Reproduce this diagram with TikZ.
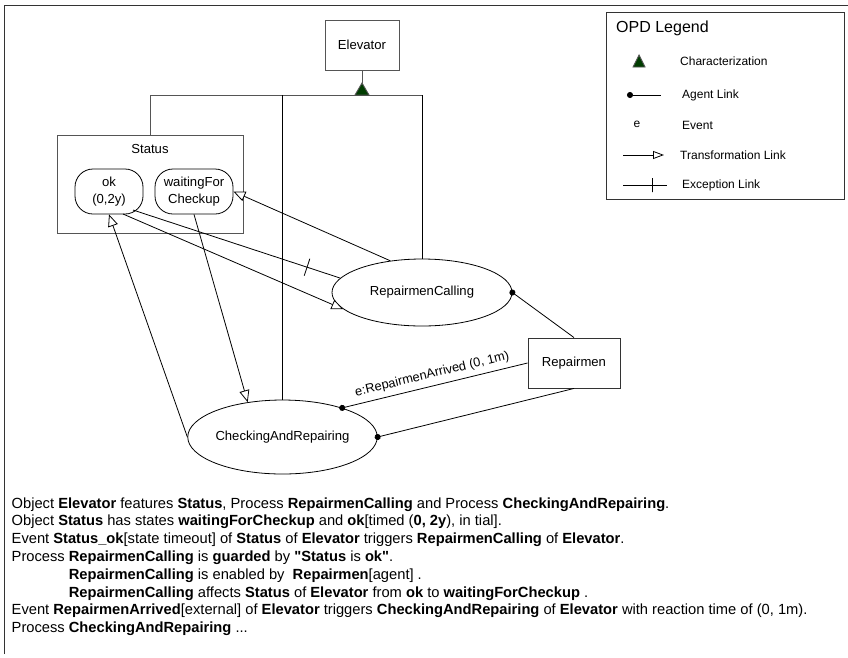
\documentclass[tikz,border=0pt]{standalone}
\usepackage{fontspec}
\setmainfont{Liberation Sans}
% same family without TeX input mapping, for straight double quotes
\newfontfamily\rawsans{Liberation Sans}
\usetikzlibrary{arrows.meta,shapes.geometric,calc}

\definecolor{chargreen}{RGB}{0,60,0}
\definecolor{edgegray}{RGB}{85,85,85}

\tikzset{
  every node/.style={inner sep=0pt, font=\fontsize{13.1}{16.5}\selectfont},
  link/.style={line width=0.8pt, black},
  objbox/.style={draw=edgegray, line width=0.9pt, rectangle},
  procell/.style={draw=black, line width=0.8pt, ellipse},
  statebox/.style={draw=black, line width=0.8pt, rectangle, rounded corners=18pt, align=center},
  translink/.style={link, -{Triangle[open, length=12pt, width=10pt, fill=white]}},
  agentlink/.style={link, -{Circle[length=6pt]}, shorten >=-3pt},
  agentlinkrev/.style={link, {Circle[length=6pt]}-, shorten <=-3pt},
  tickmark/.style={draw=black, line width=0.8pt, rectangle, minimum width=0pt, minimum height=18pt, inner sep=0pt},
  legendtext/.style={anchor=west, font=\fontsize{12}{14}\selectfont},
  opl/.style={anchor=base west, font=\fontsize{14.7}{17}\selectfont},
}
\newcommand{\oplindent}{\hphantom{Process }}
\newcommand{\sq}{{\rawsans\bfseries "}}

\begin{document}
\begin{tikzpicture}[x=1pt, y=-1pt]
\useasboundingbox (0,0) rectangle (848,657);

% page frame
\draw[line width=0.9pt, black!80] (4,654) -- (4,5) -- (848,5);

% objects
\node[objbox, minimum width=74pt, minimum height=50pt] (elev) at (362,45) {Elevator};
\node[objbox, minimum width=186pt, minimum height=98pt] (status) at (150,184) {};
\node (statusname) at (150,149) {Status};
\node[statebox, minimum width=68pt, minimum height=45pt] (ok) at (109,191.5) {ok\\(0,2y)};
\node[statebox, minimum width=78pt, minimum height=45pt] (wfc) at (194,191.5) {waitingFor\\Checkup};
\node[objbox, minimum width=92pt, minimum height=50pt, draw=black!80] (rep) at (574,363) {Repairmen};

% processes
\node[procell, minimum width=180pt, minimum height=67pt] (rc) at (422,292.5) {RepairmenCalling};
\node[procell, minimum width=181pt, minimum height=74pt] (cr) at (282.5,437) {CheckingAndRepairing};

% characterization of Elevator
\coordinate (apex) at (362,83);
\coordinate (bar) at (362,95);
\draw[line width=0.9pt, edgegray] (elev.south) -- (apex);
\draw[line width=0.9pt, edgegray] (status.north) |- (rc.north |- bar);
\draw[link] (rc.north |- bar) -- (rc.north);
\draw[link] (cr.north |- bar) -- (cr.north);
\filldraw[fill=chargreen, draw=edgegray, line width=0.9pt]
  ([xshift=-7pt]bar) -- (apex) -- ([xshift=7pt]bar) -- cycle;

% transformation and exception links
\draw[translink] ($(ok.center)+(14,22.5)$) -- (rc.192);
\draw[link] ($(ok.center)+(24,18.5)$) -- (rc.170)
  node[pos=0.84, sloped, tickmark] (exctick) {};
\draw[translink] (rc.135.5) -- (wfc.east);
\draw[translink] (wfc.south) -- (cr.135.4);
\draw[translink] (cr.west) -- (ok.south);

% agent and event links
\draw[agentlink] (rep.north) -- (rc.east);
\draw[agentlink] (rep.south) -- (cr.east);
\draw[agentlinkrev] (cr.26) -- (rep.west)
  node[midway, sloped, above=5pt, font=\fontsize{12.8}{14}\selectfont] (evlabel) {e:RepairmenArrived (0, 1m)};

% legend
\node[draw=black!80, line width=0.9pt, minimum width=238pt, minimum height=187pt] (legend) at (725,105.5) {};
\node[anchor=west, font=\fontsize{16}{18}\selectfont] (legtitle) at (616,28) {OPD Legend};
\coordinate (lgapex) at (639,55);
\filldraw[fill=chargreen, draw=edgegray, line width=0.9pt]
  (633,67) -- (lgapex) -- (645,67) -- cycle;
\node[legendtext] (lgchar) at (680,61) {Characterization};
\coordinate (lgagA) at (630,95);
\coordinate (lgagB) at (661,95);
\draw[agentlinkrev] (lgagA) -- (lgagB);
\node[legendtext] (lgagent) at (682,95) {Agent Link};
\node[font=\fontsize{12}{14}\selectfont] (lge) at (637,124) {e};
\node[legendtext] (lgevent) at (682,125) {Event};
\coordinate (lgtrA) at (623,155);
\coordinate (lgtrB) at (664,155);
\draw[link, -{Triangle[open, length=11pt, width=8pt, fill=white]}] (lgtrA) -- (lgtrB);
\node[legendtext] (lgtrans) at (680,155) {Transformation Link};
\coordinate (lgexA) at (623,185);
\coordinate (lgexB) at (667,185);
\draw[link] (lgexA) -- (lgexB) node[pos=0.66, tickmark, minimum height=14pt] (lgtick) {};
\node[legendtext] (lgexc) at (682,185) {Exception Link};

% textual description (OPL sentences)
\node[opl] (opl1) at (11.5,508) {Object \textbf{Elevator} features \textbf{Status}, Process \textbf{RepairmenCalling} and Process \textbf{CheckingAndRepairing}.};
\node[opl] (opl2) at (11.5,525.8) {Object \textbf{Status} has states \textbf{waitingForCheckup} and \textbf{ok}[timed (\textbf{0, 2y}), in tial].};
\node[opl] (opl3) at (11.5,543.6) {Event \textbf{Status\_ok}[state timeout] of \textbf{Status} of \textbf{Elevator} triggers \textbf{RepairmenCalling} of \textbf{Elevator}.};
\node[opl] (opl4) at (11.5,561.4) {Process \textbf{RepairmenCalling} is \textbf{guarded} by \sq\textbf{Status} is \textbf{ok}\sq.};
\node[opl] (opl5) at (11.5,579.2) {\oplindent\textbf{RepairmenCalling} is enabled by\ \ \textbf{Repairmen}[agent] .};
\node[opl] (opl6) at (11.5,597) {\oplindent\textbf{RepairmenCalling} affects \textbf{Status} of \textbf{Elevator} from \textbf{ok} to \textbf{waitingForCheckup} .};
\node[opl] (opl7) at (11.5,614.8) {Event \textbf{RepairmenArrived}[external] of \textbf{Elevator} triggers \textbf{CheckingAndRepairing} of \textbf{Elevator} with reaction time of (0, 1m).};
\node[opl] (opl8) at (11.5,632.6) {Process \textbf{CheckingAndRepairing} ...};
\end{tikzpicture}
\end{document}
